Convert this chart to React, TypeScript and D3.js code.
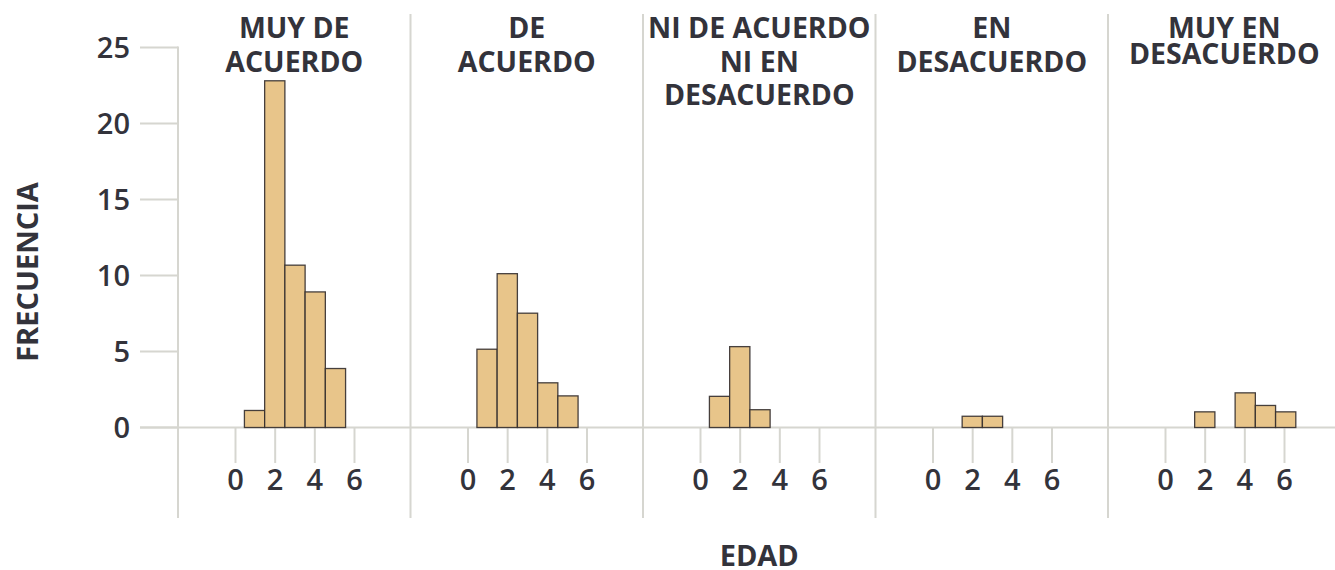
import React from "react";
import * as d3 from "d3";

// ---- Data ----
const categories = [
  "MUY DE ACUERDO",
  "DE ACUERDO",
  "NI DE ACUERDO NI EN DESACUERDO",
  "EN DESACUERDO",
  "MUY EN DESACUERDO",
];
const titleLines = [
  ["MUY DE", "ACUERDO"],
  ["DE", "ACUERDO"],
  ["NI DE ACUERDO", "NI EN", "DESACUERDO"],
  ["EN", "DESACUERDO"],
  ["MUY EN", "DESACUERDO"],
];
// histogram bin edges (EDAD)
const binEdges = [0.45, 1.47, 2.49, 3.51, 4.53, 5.55, 6.57];
// frequencies per bin for each category
const freqMuyDeAcuerdo = [1.12, 22.81, 10.68, 8.92, 3.88, 0];
const freqDeAcuerdo = [5.15, 10.12, 7.52, 2.94, 2.08, 0];
const freqNi = [2.05, 5.32, 1.17, 0, 0, 0];
const freqEnDesacuerdo = [0, 0.74, 0.74, 0, 0, 0];
const freqMuyEnDesacuerdo = [0, 1.03, 0, 2.28, 1.45, 1.03];
const seriesValues = [
  freqMuyDeAcuerdo,
  freqDeAcuerdo,
  freqNi,
  freqEnDesacuerdo,
  freqMuyEnDesacuerdo,
];
const xTicks = [0, 2, 4, 6];
const yTicks = [0, 5, 10, 15, 20, 25];
const xTitle = "EDAD";
const yTitle = "FRECUENCIA";

// ---- Style / layout ----
const W = 1335;
const H = 570;
const GRID = "#d6d6d0";
const TEXT = "#33333b";
const FILL = "#e8c58a";
const FONT = "'Open Sans', 'Noto Sans', sans-serif";

export default function App() {
  const plotLeft = 178;
  const panelW = 232.5;
  const baseY = 427.5;
  const y = d3.scaleLinear().domain([0, 25]).range([baseY, 47.5]);
  const panels = categories.map((c, i) => {
    const left = plotLeft + i * panelW;
    const x = d3
      .scaleLinear()
      .domain([0, 6])
      .range([left + 57.5, left + 57.5 + 119]);
    return { c, i, left, x };
  });
  const titleLineHeight = [33.5, 33.5, 33.5, 33.5, 26];

  return (
    <svg
      width={W}
      height={H}
      style={{ position: "absolute", left: 0, top: 0, background: "#fff" }}
      fontFamily={FONT}
    >
      {/* y axis ticks */}
      {yTicks.map((t) => (
        <g key={"yt" + t}>
          <line x1={140} x2={plotLeft} y1={y(t)} y2={y(t)} stroke={GRID} strokeWidth={2} />
          <text
            x={130}
            y={y(t)}
            dy="0.36em"
            textAnchor="end"
            fontSize={29}
            fontWeight={600}
            fill={TEXT}
          >
            {t}
          </text>
        </g>
      ))}
      {/* left axis line */}
      <line x1={plotLeft} x2={plotLeft} y1={y(25) - 1} y2={518} stroke={GRID} strokeWidth={2} />
      {/* baseline */}
      <line x1={140} x2={W} y1={baseY} y2={baseY} stroke={GRID} strokeWidth={2} />

      {panels.map(({ c, i, left, x }) => (
        <g key={c}>
          {i > 0 && (
            <line x1={left} x2={left} y1={14} y2={518} stroke={GRID} strokeWidth={2} />
          )}
          {xTicks.map((t) => (
            <g key={"xt" + t}>
              <line x1={x(t)} x2={x(t)} y1={baseY} y2={463} stroke={GRID} strokeWidth={2} />
              <text
                x={x(t)}
                y={490}
                textAnchor="middle"
                fontSize={29}
                fontWeight={600}
                fill={TEXT}
              >
                {t}
              </text>
            </g>
          ))}
          {seriesValues[i].map((v, b) =>
            v > 0 ? (
              <rect
                key={"b" + b}
                x={x(binEdges[b])}
                y={y(v)}
                width={x(binEdges[b + 1]) - x(binEdges[b])}
                height={baseY - y(v)}
                fill={FILL}
                stroke="#332e2e"
                strokeOpacity={0.9}
                strokeWidth={1.3}
              />
            ) : null
          )}
          <text
            x={left + panelW / 2}
            y={38.3}
            textAnchor="middle"
            fontSize={28.5}
            fontWeight={700}
            fill={TEXT}
          >
            {titleLines[i].map((l, k) => (
              <tspan key={k} x={left + panelW / 2} dy={k === 0 ? 0 : titleLineHeight[i]}>
                {l}
              </tspan>
            ))}
          </text>
        </g>
      ))}

      {/* axis titles */}
      <text
        transform={`translate(38.3, 272) rotate(-90)`}
        textAnchor="middle"
        fontSize={29}
        fontWeight={700}
        fill={TEXT}
      >
        {yTitle}
      </text>
      <text
        x={plotLeft + (panelW * 5) / 2}
        y={566}
        textAnchor="middle"
        fontSize={29}
        fontWeight={700}
        fill={TEXT}
      >
        {xTitle}
      </text>
    </svg>
  );
}
